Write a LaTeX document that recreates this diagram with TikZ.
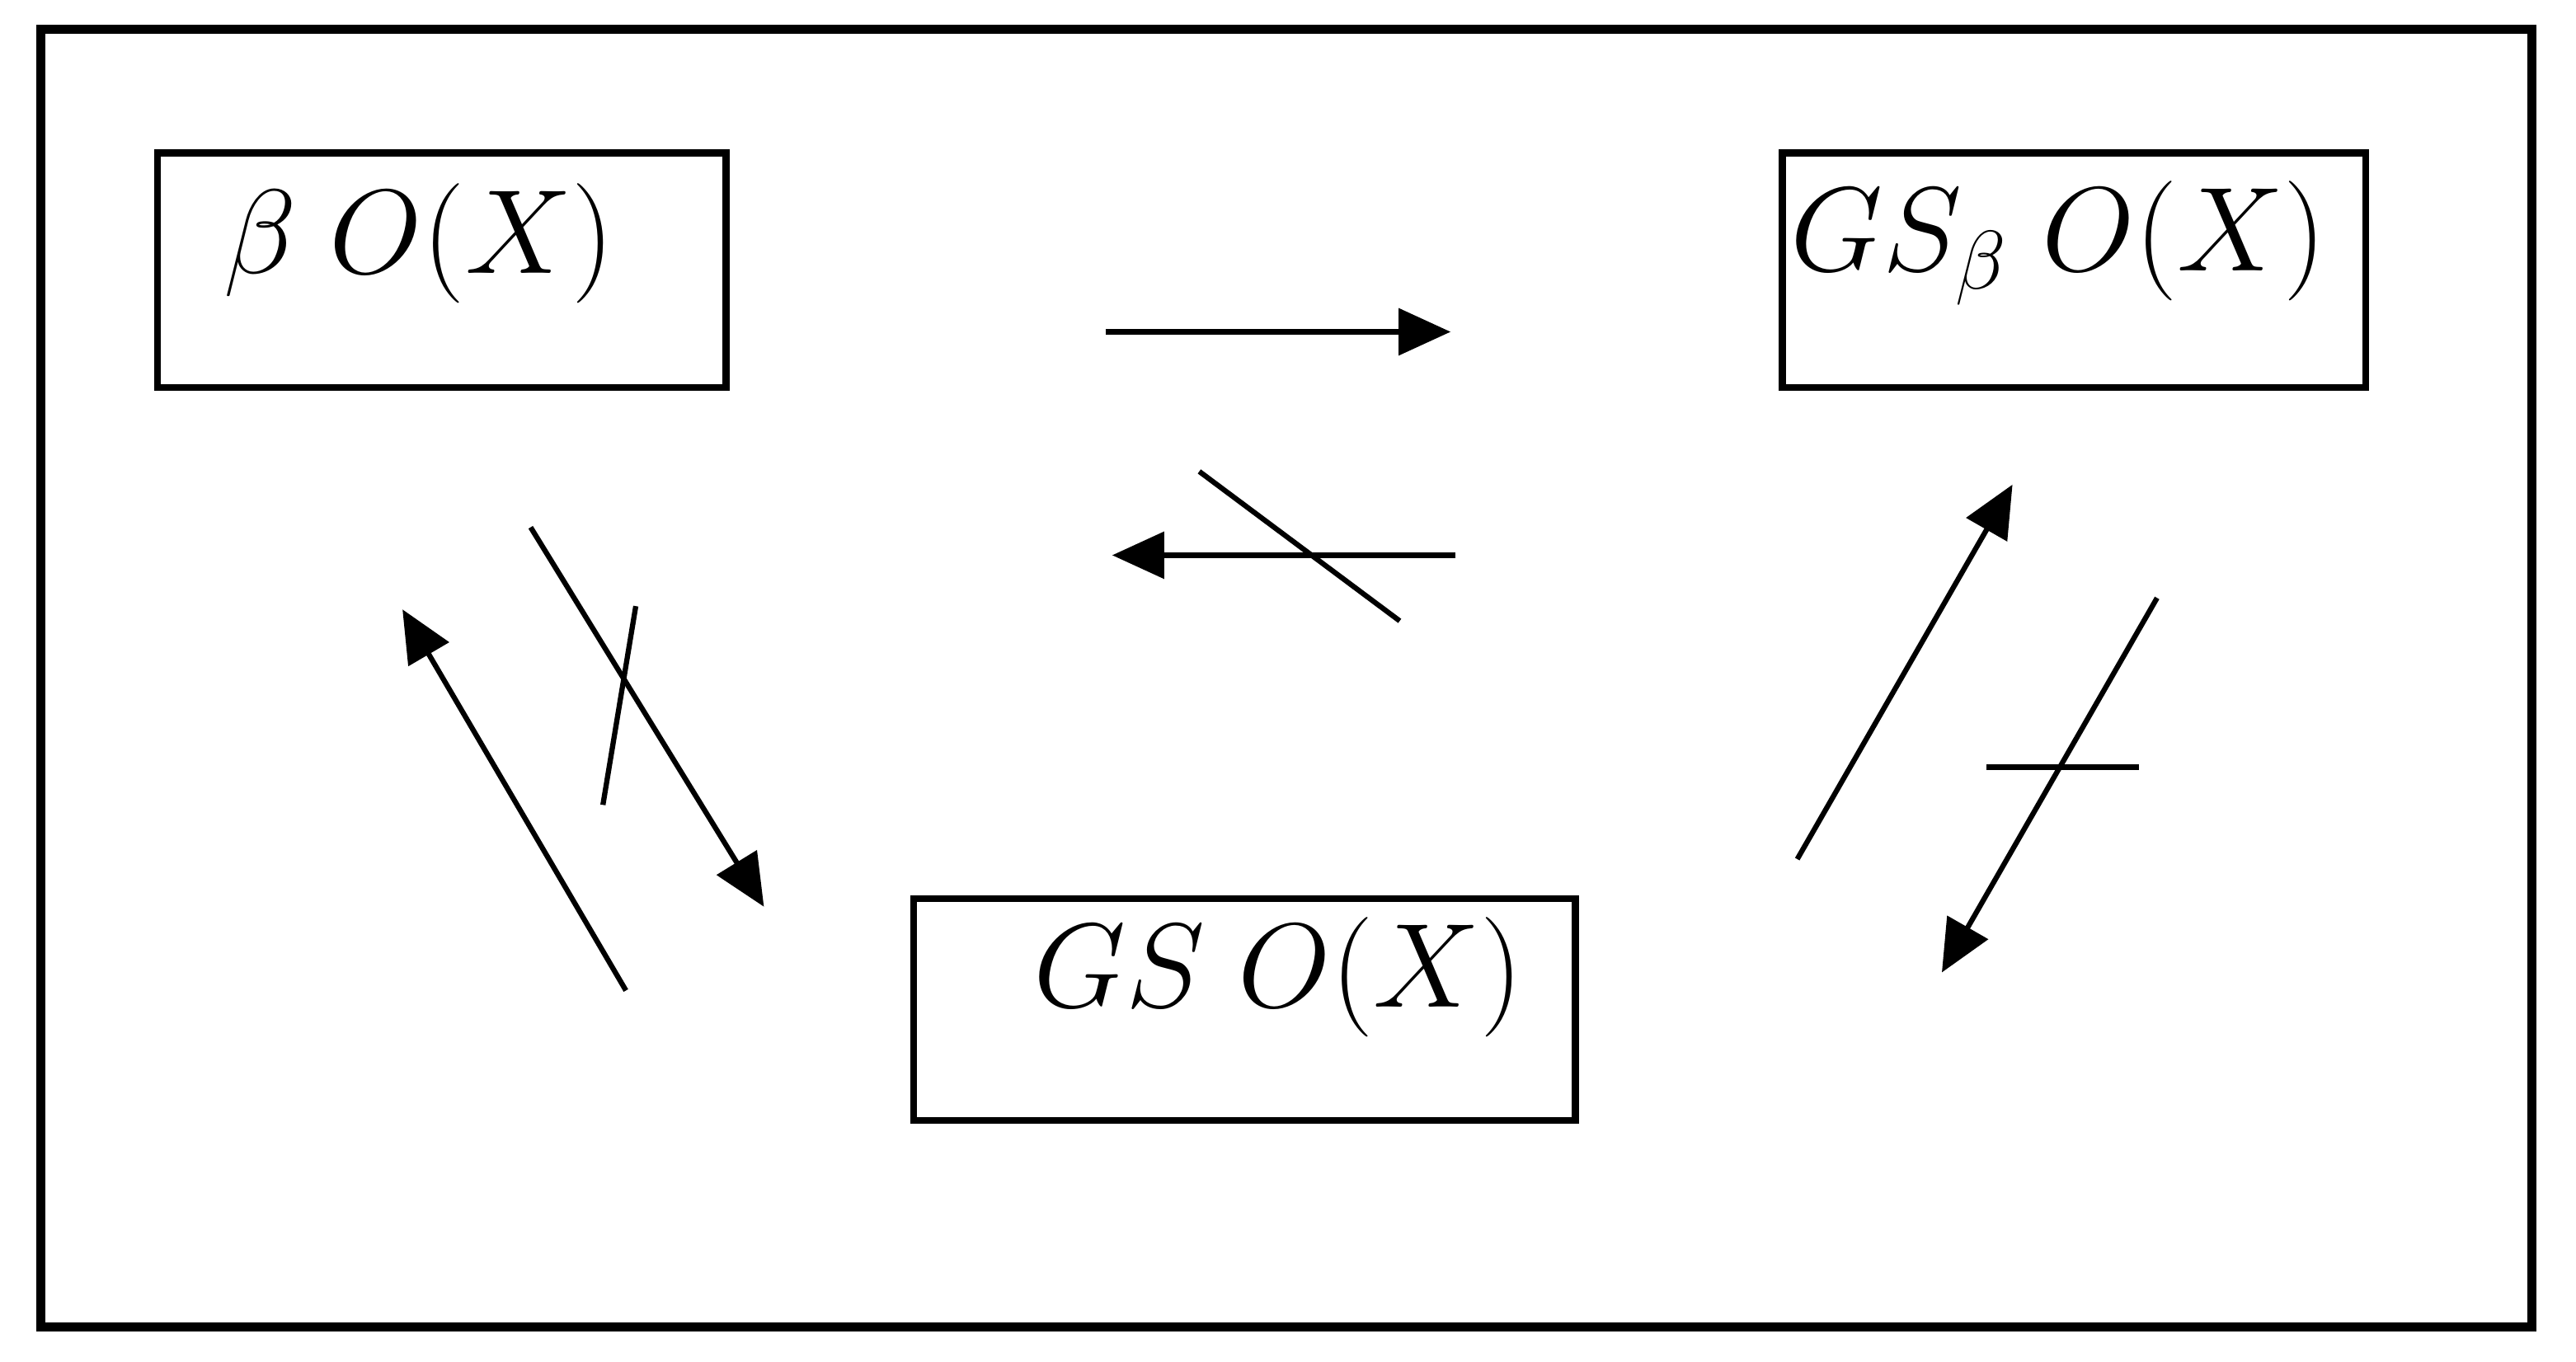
\documentclass[tikz,border=0pt]{standalone}
\usetikzlibrary{arrows.meta}
\begin{document}
\begin{tikzpicture}[x=0.01cm,y=-0.01cm,
  box/.style={draw,line width=1.2pt},
  arr/.style={line width=0.9pt,-{Triangle[length=9pt,width=8pt]}},
  sl/.style={line width=0.9pt},
  lab/.style={font=\fontsize{20}{24}\selectfont}]
\useasboundingbox (0,0) rectangle (1568,829);
\draw[line width=1.6pt] (25,18) rectangle (1541,808);
\draw[box] (96,93) rectangle (442,236);
\draw[box] (1085,93) rectangle (1440,236);
\draw[box] (556,547) rectangle (959,682);
\node[lab] (t1) at (255,148) {$\beta\;O(X)$};
\node[lab] (t2) at (1253,148) {$GS_\beta\;O(X)$};
\node[lab] (t3) at (778,595) {$GS\;O(X)$};
\coordinate (a1) at (673,202); \coordinate (a2) at (883,202);
\draw[arr] (a1) -- (a2);
\coordinate (b1) at (886,338); \coordinate (b2) at (677,338);
\draw[arr] (b1) -- (b2);
\coordinate (s1) at (730,287); \coordinate (s2) at (852,378);
\draw[sl] (s1) -- (s2);
\coordinate (c1) at (381,603); \coordinate (c2) at (245,371);
\draw[arr] (c1) -- (c2);
\coordinate (d1) at (323,321); \coordinate (d2) at (465,552);
\draw[arr] (d1) -- (d2);
\coordinate (s3) at (387,369); \coordinate (s4) at (367,490);
\draw[sl] (s3) -- (s4);
\coordinate (e1) at (1094,523); \coordinate (e2) at (1225,295);
\draw[arr] (e1) -- (e2);
\coordinate (f1) at (1313,364); \coordinate (f2) at (1182,592);
\draw[arr] (f1) -- (f2);
\coordinate (s5) at (1209,467); \coordinate (s6) at (1302,467);
\draw[sl] (s5) -- (s6);
\end{tikzpicture}
\end{document}
